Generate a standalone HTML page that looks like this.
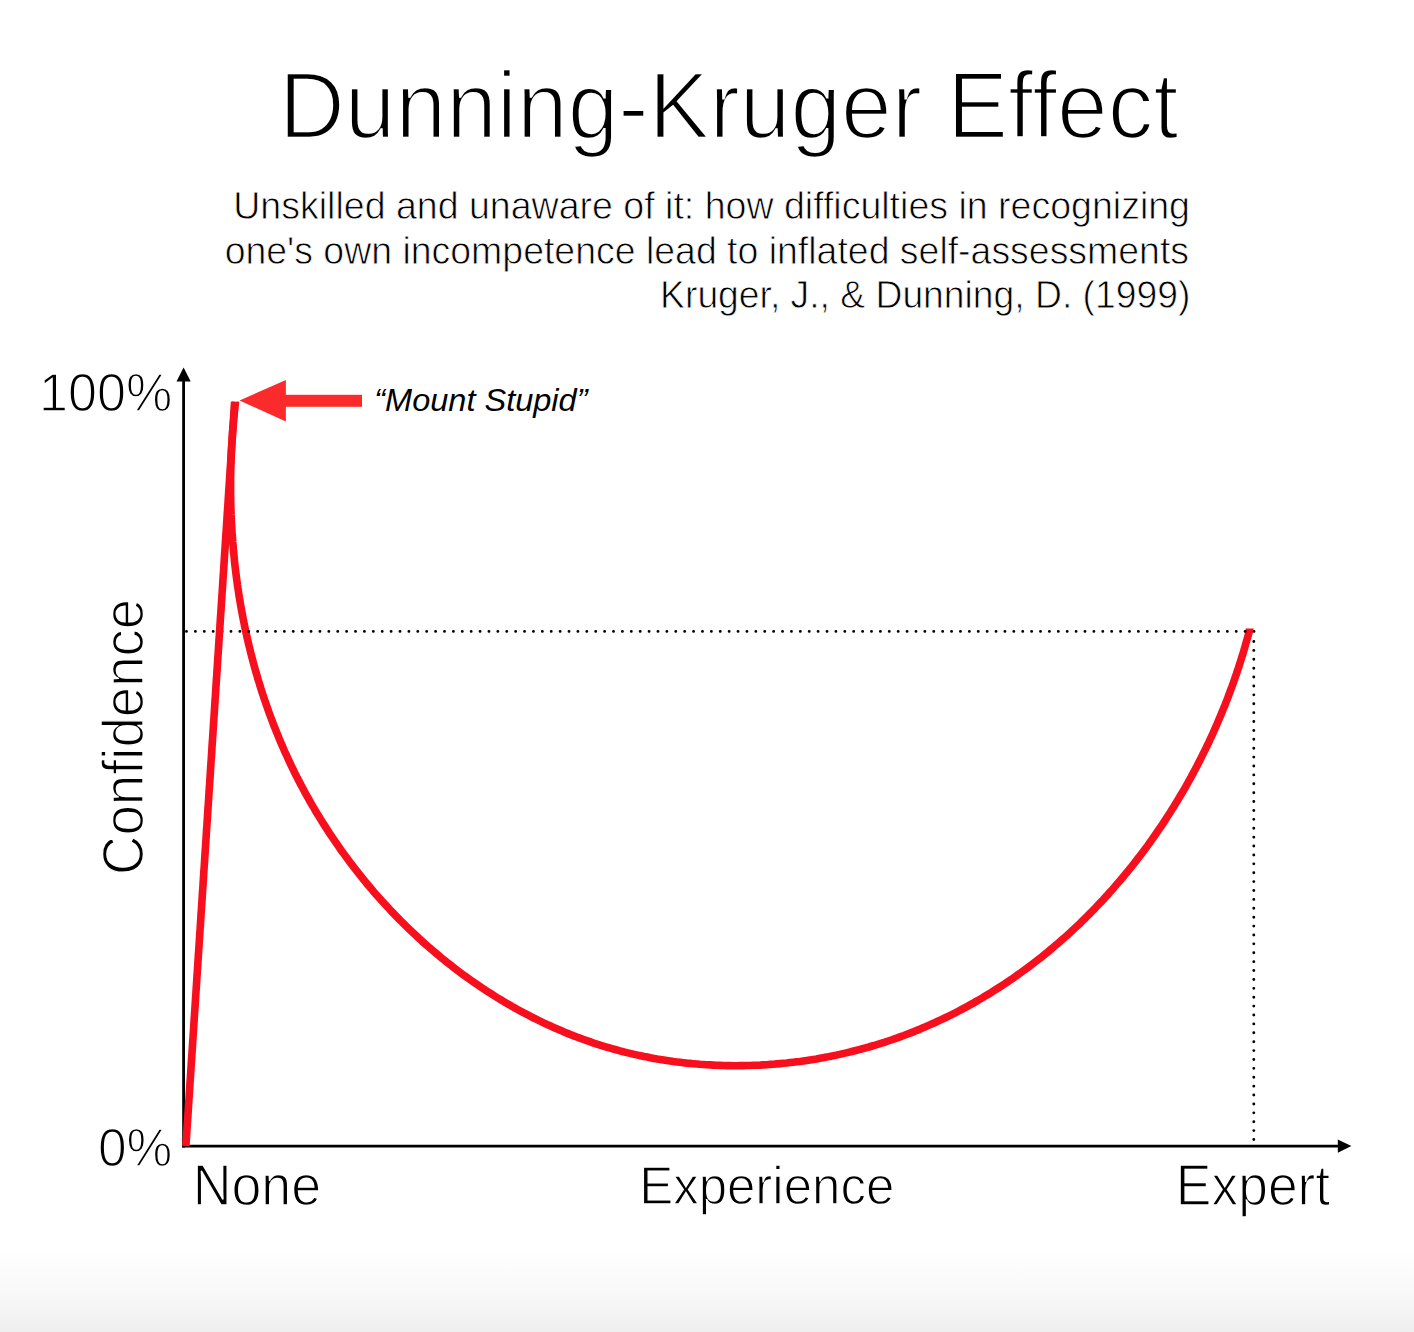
<!DOCTYPE html>
<html><head><meta charset="utf-8"><style>
html,body{margin:0;padding:0;background:#fff;}
body{width:1414px;height:1332px;overflow:hidden;position:relative;}
svg{position:absolute;left:0;top:0;}
text{font-family:"Liberation Sans",sans-serif;fill:#000;}
</style></head><body>
<svg width="1414" height="1332" viewBox="0 0 1414 1332">
<defs><linearGradient id="bg" x1="0" y1="0" x2="0" y2="1">
<stop offset="0" stop-color="#fefefe"/><stop offset="0.41" stop-color="#fafafa"/><stop offset="0.69" stop-color="#f5f5f5"/><stop offset="1" stop-color="#eeeeee"/></linearGradient></defs>
<rect x="0" y="1252" width="1414" height="80" fill="url(#bg)"/>
<g fill="#000">
<text transform="translate(279.04 138.40) scale(0.9594 1)" font-size="94.95" font-style="normal" stroke="#fff" stroke-width="2.6">Dunning-Kruger Effect</text>
<text transform="translate(233.27 218.60) scale(0.9723 1)" font-size="38.61" font-style="normal" stroke="#fff" stroke-width="0.8">Unskilled and unaware of it: how difficulties in recognizing</text>
<text transform="translate(224.64 263.50) scale(0.9702 1)" font-size="38.61" font-style="normal" stroke="#fff" stroke-width="0.8">one's own incompetence lead to inflated self-assessments</text>
<text transform="translate(660.12 308.20) scale(0.9652 1)" font-size="38.61" font-style="normal" stroke="#fff" stroke-width="0.8">Kruger, J., &amp; Dunning, D. (1999)</text>
<text transform="translate(39.11 410.50) scale(0.9562 1)" font-size="54.49" font-style="normal" stroke="#fff" stroke-width="1.4">100%</text>
<text transform="translate(97.92 1165.70) scale(0.9553 1)" font-size="53.93" font-style="normal" stroke="#fff" stroke-width="1.4">0%</text>
<text transform="translate(192.64 1205.20) scale(0.9498 1)" font-size="56.60" font-style="normal" stroke="#fff" stroke-width="1.4">None</text>
<text transform="translate(639.16 1204.35) scale(0.9555 1)" font-size="53.37" font-style="normal" stroke="#fff" stroke-width="1.3">Experience</text>
<text transform="translate(1175.86 1205.20) scale(0.9438 1)" font-size="56.60" font-style="normal" stroke="#fff" stroke-width="1.4">Expert</text>
<text transform="translate(142.90 874.90) rotate(-90) scale(0.9621 1)" font-size="56.74" stroke="#fff" stroke-width="1.4">Confidence</text>
<text transform="translate(374.28 410.70) scale(1.0082 1)" font-size="32.26" font-style="italic">“Mount Stupid”</text>
</g>
<!-- axes -->
<line x1="183.6" y1="380" x2="183.6" y2="1147.6" stroke="#000" stroke-width="2.8"/>
<line x1="182.2" y1="1146.2" x2="1339" y2="1146.2" stroke="#000" stroke-width="2.8"/>
<polygon points="183.6,367.6 176.5,381.6 190.7,381.6" fill="#000"/>
<polygon points="1351.4,1146.1 1337.8,1139.4 1337.8,1152.8" fill="#000"/>
<!-- red curve -->
<path d="M235.5 402.0 L235.1 405.3 L234.8 408.6 L234.4 411.9 L234.1 415.2 L233.8 418.5 L233.5 421.8 L233.2 425.1 L232.9 428.4 L232.6 431.7 L232.4 435.1 L232.2 438.4 L232.0 441.7 L231.8 445.0 L231.6 448.3 L231.4 451.7 L231.3 455.0 L231.1 458.3 L231.0 461.6 L230.9 465.0 L230.8 468.3 L230.7 471.6 L230.7 474.9 L230.6 478.3 L230.6 481.6 L230.6 484.9 L230.6 488.3 L230.6 491.6 L230.6 494.9 L230.7 498.3 L230.7 501.6 L230.8 504.9 L230.9 508.3 L231.0 511.6 L231.1 514.9 L231.3 518.3 L231.4 521.6 L231.6 524.9 L231.8 528.3 L232.0 531.6 L232.2 534.9 L232.5 538.3 L232.7 541.6 L233.0 544.9 L233.3 548.2 L233.6 551.6 L233.9 554.9 L234.2 558.2 L234.5 561.5 L234.9 564.8 L235.3 568.2 L235.7 571.5 L236.1 574.8 L236.5 578.1 L237.0 581.4 L237.4 584.7 L237.9 588.0 L238.4 591.3 L238.9 594.6 L239.4 597.9 L240.0 601.2 L240.5 604.5 L241.1 607.8 L241.7 611.0 L242.3 614.3 L242.9 617.6 L243.6 620.9 L244.2 624.1 L244.9 627.4 L245.6 630.7 L246.3 633.9 L247.0 637.2 L247.8 640.4 L248.5 643.7 L249.3 646.9 L250.1 650.1 L250.9 653.4 L251.7 656.6 L252.6 659.8 L253.4 663.1 L254.3 666.3 L255.2 669.5 L256.1 672.7 L257.1 675.9 L258.0 679.1 L259.0 682.3 L259.9 685.5 L260.9 688.6 L261.9 691.8 L263.0 695.0 L264.0 698.1 L265.1 701.3 L266.2 704.4 L267.3 707.6 L268.4 710.7 L269.5 713.9 L270.7 717.0 L271.9 720.1 L273.0 723.2 L274.2 726.3 L275.5 729.4 L276.7 732.5 L278.0 735.6 L279.2 738.7 L280.5 741.8 L281.8 744.8 L283.2 747.9 L284.5 751.0 L285.9 754.0 L287.3 757.0 L288.7 760.1 L290.1 763.1 L291.5 766.1 L293.0 769.1 L294.4 772.1 L295.9 775.1 L297.4 778.1 L299.0 781.1 L300.5 784.0 L302.1 787.0 L303.7 789.9 L305.2 792.9 L306.9 795.8 L308.5 798.7 L310.1 801.6 L311.8 804.6 L313.5 807.4 L315.2 810.3 L316.9 813.2 L318.7 816.1 L320.4 818.9 L322.2 821.8 L324.0 824.6 L325.8 827.4 L327.6 830.3 L329.4 833.1 L331.3 835.9 L333.2 838.6 L335.1 841.4 L337.0 844.2 L338.9 846.9 L340.8 849.7 L342.8 852.4 L344.7 855.1 L346.7 857.8 L348.7 860.5 L350.7 863.2 L352.8 865.9 L354.8 868.5 L356.9 871.2 L359.0 873.8 L361.1 876.4 L363.2 879.1 L365.3 881.7 L367.4 884.2 L369.6 886.8 L371.8 889.4 L373.9 891.9 L376.1 894.4 L378.4 897.0 L380.6 899.5 L382.8 902.0 L385.1 904.4 L387.4 906.9 L389.6 909.3 L391.9 911.8 L394.3 914.2 L396.6 916.6 L398.9 919.0 L401.3 921.4 L403.7 923.7 L406.1 926.1 L408.5 928.4 L410.9 930.7 L413.3 933.0 L415.7 935.3 L418.2 937.6 L420.6 939.8 L423.1 942.1 L425.6 944.3 L428.1 946.5 L430.6 948.7 L433.2 950.9 L435.7 953.0 L438.3 955.2 L440.8 957.3 L443.4 959.4 L446.0 961.5 L448.6 963.6 L451.2 965.6 L453.9 967.7 L456.5 969.7 L459.2 971.7 L461.8 973.7 L464.5 975.7 L467.2 977.6 L469.9 979.5 L472.6 981.5 L475.4 983.4 L478.1 985.2 L480.9 987.1 L483.6 988.9 L486.4 990.8 L489.2 992.6 L492.0 994.3 L494.8 996.1 L497.6 997.9 L500.4 999.6 L503.2 1001.3 L506.1 1003.0 L509.0 1004.6 L511.8 1006.3 L514.7 1007.9 L517.6 1009.5 L520.5 1011.1 L523.4 1012.7 L526.3 1014.2 L529.3 1015.7 L532.2 1017.3 L535.2 1018.7 L538.1 1020.2 L541.1 1021.6 L544.1 1023.1 L547.1 1024.5 L550.1 1025.8 L553.1 1027.2 L556.1 1028.5 L559.1 1029.8 L562.1 1031.1 L565.2 1032.4 L568.2 1033.6 L571.3 1034.9 L574.4 1036.1 L577.5 1037.2 L580.6 1038.4 L583.7 1039.5 L586.8 1040.6 L589.9 1041.7 L593.0 1042.8 L596.1 1043.8 L599.3 1044.8 L602.4 1045.8 L605.6 1046.8 L608.7 1047.7 L611.9 1048.6 L615.1 1049.5 L618.3 1050.4 L621.5 1051.3 L624.7 1052.1 L627.9 1052.9 L631.1 1053.6 L634.3 1054.4 L637.6 1055.1 L640.8 1055.8 L644.0 1056.5 L647.3 1057.1 L650.5 1057.8 L653.8 1058.4 L657.1 1059.0 L660.3 1059.5 L663.6 1060.0 L666.9 1060.5 L670.2 1061.0 L673.5 1061.5 L676.8 1061.9 L680.1 1062.3 L683.4 1062.7 L686.7 1063.1 L690.0 1063.4 L693.3 1063.7 L696.6 1064.0 L700.0 1064.3 L703.3 1064.5 L706.6 1064.8 L709.9 1064.9 L713.3 1065.1 L716.6 1065.3 L719.9 1065.4 L723.3 1065.5 L726.6 1065.6 L730.0 1065.6 L733.3 1065.7 L736.6 1065.7 L740.0 1065.6 L743.3 1065.6 L746.7 1065.5 L750.0 1065.5 L753.3 1065.3 L756.7 1065.2 L760.0 1065.1 L763.4 1064.9 L766.7 1064.7 L770.1 1064.4 L773.4 1064.2 L776.7 1063.9 L780.1 1063.6 L783.4 1063.3 L786.7 1063.0 L790.1 1062.6 L793.4 1062.2 L796.7 1061.8 L800.1 1061.4 L803.4 1060.9 L806.7 1060.4 L810.0 1059.9 L813.3 1059.4 L816.6 1058.9 L819.9 1058.3 L823.2 1057.7 L826.5 1057.1 L829.8 1056.4 L833.1 1055.8 L836.4 1055.1 L839.6 1054.4 L842.9 1053.6 L846.2 1052.9 L849.4 1052.1 L852.7 1051.3 L855.9 1050.5 L859.2 1049.6 L862.4 1048.8 L865.7 1047.9 L868.9 1047.0 L872.1 1046.0 L875.3 1045.1 L878.5 1044.1 L881.7 1043.1 L884.9 1042.1 L888.1 1041.0 L891.2 1040.0 L894.4 1038.9 L897.5 1037.8 L900.7 1036.6 L903.8 1035.5 L906.9 1034.3 L910.1 1033.1 L913.2 1031.9 L916.3 1030.6 L919.4 1029.4 L922.4 1028.1 L925.5 1026.8 L928.6 1025.4 L931.6 1024.1 L934.7 1022.7 L937.7 1021.3 L940.7 1019.9 L943.7 1018.5 L946.8 1017.0 L949.7 1015.6 L952.7 1014.1 L955.7 1012.6 L958.7 1011.0 L961.6 1009.5 L964.6 1007.9 L967.5 1006.3 L970.4 1004.7 L973.3 1003.1 L976.2 1001.4 L979.1 999.7 L982.0 998.1 L984.8 996.3 L987.7 994.6 L990.5 992.9 L993.4 991.1 L996.2 989.3 L999.0 987.5 L1001.8 985.7 L1004.6 983.9 L1007.4 982.0 L1010.1 980.2 L1012.9 978.3 L1015.6 976.4 L1018.3 974.4 L1021.0 972.5 L1023.7 970.5 L1026.4 968.6 L1029.1 966.6 L1031.8 964.6 L1034.4 962.5 L1037.1 960.5 L1039.7 958.4 L1042.3 956.4 L1044.9 954.3 L1047.5 952.2 L1050.1 950.0 L1052.6 947.9 L1055.2 945.7 L1057.7 943.6 L1060.2 941.4 L1062.7 939.2 L1065.2 937.0 L1067.7 934.8 L1070.2 932.5 L1072.6 930.2 L1075.0 928.0 L1077.5 925.7 L1079.9 923.4 L1082.3 921.1 L1084.7 918.7 L1087.0 916.4 L1089.4 914.0 L1091.7 911.6 L1094.1 909.3 L1096.4 906.8 L1098.7 904.4 L1101.0 902.0 L1103.3 899.6 L1105.5 897.1 L1107.8 894.6 L1110.0 892.1 L1112.2 889.7 L1114.4 887.1 L1116.6 884.6 L1118.8 882.1 L1121.0 879.5 L1123.1 877.0 L1125.2 874.4 L1127.4 871.8 L1129.5 869.2 L1131.6 866.6 L1133.6 864.0 L1135.7 861.4 L1137.7 858.7 L1139.8 856.1 L1141.8 853.4 L1143.8 850.7 L1145.8 848.1 L1147.8 845.4 L1149.7 842.7 L1151.7 839.9 L1153.6 837.2 L1155.5 834.5 L1157.4 831.7 L1159.3 828.9 L1161.2 826.2 L1163.1 823.4 L1164.9 820.6 L1166.7 817.8 L1168.5 815.0 L1170.3 812.2 L1172.1 809.3 L1173.9 806.5 L1175.7 803.6 L1177.4 800.8 L1179.1 797.9 L1180.8 795.0 L1182.5 792.2 L1184.2 789.3 L1185.9 786.4 L1187.5 783.5 L1189.1 780.5 L1190.8 777.6 L1192.4 774.7 L1193.9 771.7 L1195.5 768.8 L1197.1 765.8 L1198.6 762.8 L1200.1 759.9 L1201.6 756.9 L1203.1 753.9 L1204.6 750.9 L1206.1 747.9 L1207.5 744.9 L1209.0 741.9 L1210.4 738.8 L1211.8 735.8 L1213.2 732.8 L1214.5 729.7 L1215.9 726.7 L1217.2 723.6 L1218.5 720.6 L1219.8 717.5 L1221.1 714.4 L1222.4 711.3 L1223.6 708.2 L1224.9 705.2 L1226.1 702.1 L1227.3 699.0 L1228.5 695.9 L1229.7 692.7 L1230.8 689.6 L1232.0 686.5 L1233.1 683.4 L1234.2 680.2 L1235.3 677.1 L1236.4 674.0 L1237.4 670.8 L1238.5 667.7 L1239.5 664.5 L1240.5 661.4 L1241.5 658.2 L1242.5 655.0 L1243.5 651.9 L1244.4 648.7 L1245.3 645.5 L1246.2 642.3 L1247.1 639.2 L1248.0 636.0 L1248.9 632.8 L1249.7 629.6" fill="none" stroke="#f70f1e" stroke-width="7.6" stroke-linecap="butt"/>
<polygon points="1245.8,628.5 1253.6,628.5 1253.1,632.5 1245.3,632.5" fill="#f70f1e"/>
<!-- dotted lines -->
<line x1="186.5" y1="631.4" x2="1255" y2="631.4" stroke="#000" stroke-width="2.9" stroke-linecap="round" stroke-dasharray="0 8.896"/>
<line x1="1253.8" y1="641.5" x2="1253.8" y2="1139.6" stroke="#000" stroke-width="2.9" stroke-linecap="round" stroke-dasharray="0 8.893"/>
<!-- red rising line -->
<path d="M185.9 1146 L234.6 402" fill="none" stroke="#f70f1e" stroke-width="7.6" stroke-linecap="butt"/>
<rect x="231.6" y="401.6" width="7.4" height="4" fill="#f70f1e"/>
<!-- red arrow -->
<polygon points="239.5,400.5 285.9,380 285.9,421.6" fill="#fc2b2b"/>
<rect x="285" y="394.8" width="77" height="12" fill="#fc2b2b"/>
</svg>
</body></html>
